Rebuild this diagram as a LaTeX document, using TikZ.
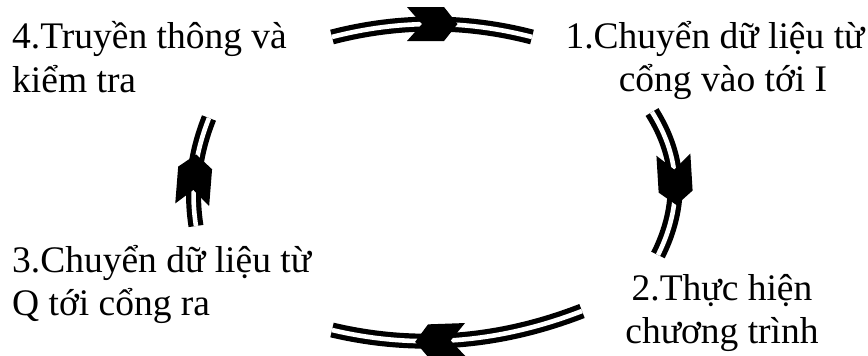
\documentclass[tikz,border=0pt]{standalone}
\usepackage{fontspec}
\setmainfont{Liberation Serif}
\usetikzlibrary{decorations.markings}
\tikzset{
  label/.style={inner sep=0pt, font=\fontsize{37.5}{43.5}\selectfont},
  % double-stroked arc
  flowarc/.style={draw=black, line width=5.2pt, double=white, double distance=4.6pt},
  % notched chevron placed on the arc, pointing along the path
  chevron at/.style={postaction={decorate}, decoration={markings,
      mark=at position #1 with {\fill[black] (-25,17) -- (12,17) -- (25.5,0) -- (12,-17)
                                  -- (-25,-17) -- (-10,0) -- cycle;}}}
}
\begin{document}
\begin{tikzpicture}[x=1pt, y=-1pt]
  \useasboundingbox (0,0) rectangle (868,356);

  % step labels
  \node[label, anchor=base west] (s4a) at (12,48) {4.Truyền thông và};
  \node[label, anchor=base west] (s4b) at (12,92) {kiểm tra};
  \node[label, anchor=base] (s1a) at (715,48) {1.Chuyển dữ liệu từ};
  \node[label, anchor=base] (s1b) at (723,91) {cổng vào tới I};
  \node[label, anchor=base] (s2a) at (722,300) {2.Thực hiện};
  \node[label, anchor=base] (s2b) at (722,343) {chương trình};
  \node[label, anchor=base west] (s3a) at (12,272) {3.Chuyển dữ liệu từ};
  \node[label, anchor=base west] (s3b) at (12,315) {Q tới cổng ra};

  % end points of the four arcs
  \coordinate (t0) at (332,37);  \coordinate (t1) at (532,37);
  \coordinate (r0) at (652,112); \coordinate (r1) at (658,255);
  \coordinate (b0) at (582,311); \coordinate (b1) at (332,330);
  \coordinate (l0) at (196,226); \coordinate (l1) at (209,118);

  % cycle arcs: 4 -> 1 -> 2 -> 3 -> 4
  \draw[flowarc, chevron at=0.5]  (t0) .. controls (398.7,19.7) and (465.3,19.7) .. (t1);
  \draw[flowarc, chevron at=0.48] (r0) .. controls (680.7,157.7) and (682.7,205.3) .. (r1);
  \draw[flowarc, chevron at=0.57] (b0) .. controls (498.7,343.3) and (415.3,349.7) .. (b1);
  \draw[flowarc, chevron at=0.42] (l0) .. controls (190.3,190) and (194.6,154) .. (l1);
\end{tikzpicture}
\end{document}
